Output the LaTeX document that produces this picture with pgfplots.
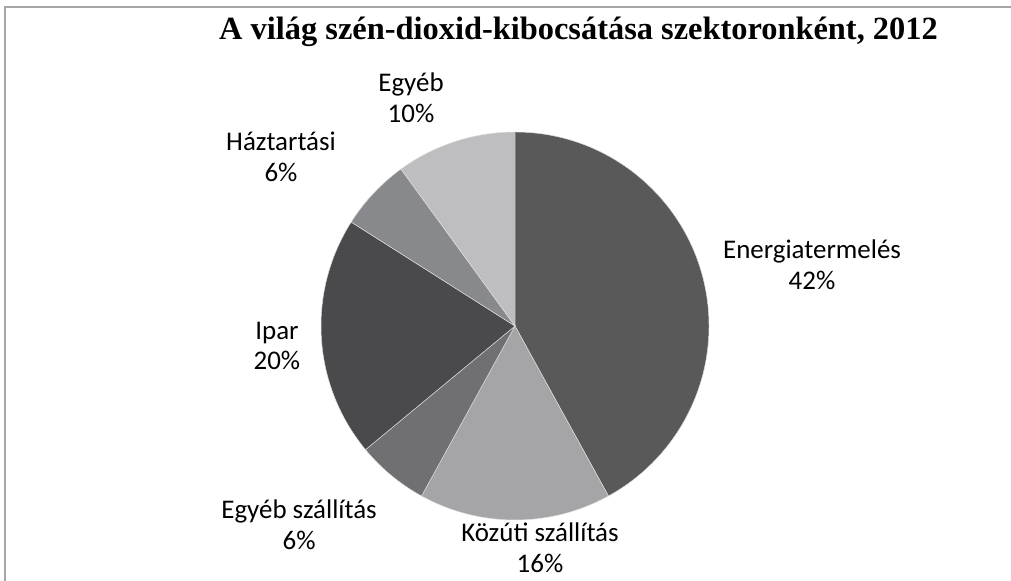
\documentclass[border=0pt]{standalone}
\usepackage{pgfplots}
\usepackage{pgfplotstable}
\pgfplotsset{compat=1.18}
\usepackage{fontspec}
\setmainfont{Carlito}
\newfontfamily\titlefont{Liberation Serif}
\definecolor{c1}{HTML}{595959}
\definecolor{c2}{HTML}{A5A5A8}
\definecolor{c3}{HTML}{707073}
\definecolor{c4}{HTML}{4A4A4C}
\definecolor{c5}{HTML}{88898C}
\definecolor{c6}{HTML}{BEBEC0}
\definecolor{framegray}{HTML}{A6A6A6}
\pgfplotstableread{
label value col lx ly
{Energiatermelés} 42 c1 1.531 0.314
{Közúti szállítás} 16 c2 0.129 -1.144
{Egyéb szállítás} 6 c3 -1.113 -1.026
{Ipar} 20 c4 -1.227 -0.103
{Háztartási} 6 c5 -1.206 0.871
{Egyéb} 10 c6 -0.536 1.175
}\pietable
\begin{document}
\begin{tikzpicture}[x=0.75pt,y=0.75pt]
\useasboundingbox (0,0) rectangle (1011,581);
\draw[framegray,line width=0.9pt] (5,0) -- (5,574) -- (1011,574);
\node[font=\titlefont\bfseries\fontsize{24.3}{28}\selectfont] at (578.5,549) {A világ szén-dioxid-kibocsátása szektoronként, 2012};
\begin{axis}[
  at={(386.25pt,191.25pt)}, anchor=center,
  x=145.5pt, y=145.5pt,
  xmin=-1, xmax=1, ymin=-1, ymax=1,
  hide axis, clip=false,
]
\def\curangle{90}
\pgfplotsinvokeforeach{0,...,5}{
  \pgfplotstablegetelem{#1}{value}\of\pietable
  \let\val\pgfplotsretval
  \pgfplotstablegetelem{#1}{col}\of\pietable
  \let\col\pgfplotsretval
  \pgfplotstablegetelem{#1}{label}\of\pietable
  \let\lab\pgfplotsretval
  \pgfplotstablegetelem{#1}{lx}\of\pietable
  \let\lx\pgfplotsretval
  \pgfplotstablegetelem{#1}{ly}\of\pietable
  \let\ly\pgfplotsretval
  \pgfmathsetmacro{\endangle}{\curangle-3.6*\val}
  \pgfmathsetmacro{\cx}{cos(\curangle)}
  \pgfmathsetmacro{\cy}{sin(\curangle)}
  \edef\temp{\noexpand\fill[\col,draw=white!75!gray,line width=0.35pt] (axis cs:0,0) -- (axis cs:\cx,\cy) arc[start angle=\curangle, end angle=\endangle, radius=145.5pt] -- cycle;}
  \temp
  \edef\temp{\noexpand\node[align=center,font=\noexpand\fontsize{20.2}{23}\noexpand\selectfont] at (axis cs:\lx,\ly) {\unexpanded\expandafter{\lab}\noexpand\\\val\noexpand\%};}
  \temp
  \global\let\curangle\endangle
}
\end{axis}
\end{tikzpicture}
\end{document}
